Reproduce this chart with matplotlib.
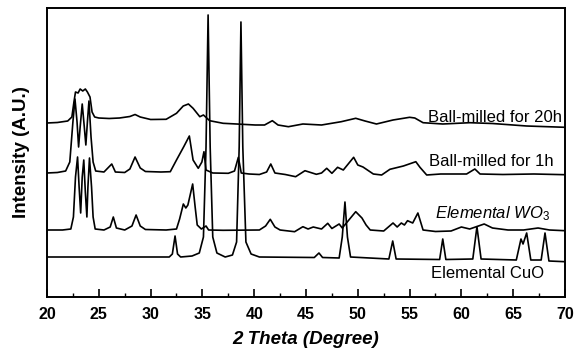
#!/usr/bin/env python3
"""
XRD patterns: elemental CuO, elemental WO3 and the mixture ball-milled
for 1 h and 20 h. Traces read off the published figure (stacked, A.U.).
"""
import numpy as np
import matplotlib
matplotlib.use("Agg")
import matplotlib.pyplot as plt
from matplotlib.ticker import MultipleLocator

plt.rcParams["font.family"] = ["Liberation Sans", "DejaVu Sans"]
plt.rcParams["mathtext.fontset"] = "custom"
plt.rcParams["mathtext.rm"] = "Liberation Sans"
plt.rcParams["mathtext.it"] = "Liberation Sans:italic"

# ball-milled for 20 h
theta_20h = [20, 21, 22, 22.4, 22.6, 22.75, 23.0, 23.2, 23.45, 23.7,
             23.9, 24.15, 24.35, 24.6, 25, 26, 27, 28, 28.5, 29,
             30, 31.5, 32.5, 33.15, 33.65, 34.1, 34.75, 35.1, 35.7, 37,
             38.3, 40.1, 41.0, 41.75, 42.3, 43.3, 44.7, 46.5, 48.4, 49.8,
             50.7, 51.8, 53.4, 55.0, 55.5, 56.3, 58.2, 60.8, 63.0, 66.3,
             70]
int_20h = [174, 174.5, 176, 180, 195, 205, 204, 208, 206, 208,
           205, 200, 185, 180, 179, 178.5, 179, 180.5, 182.5, 180,
           177.5, 177.7, 183.7, 191, 193, 188.7, 180.3, 182, 176.3, 173.7,
           173, 172, 172, 176.3, 172, 170.3, 173, 172, 175.3, 178.7,
           176, 173, 177, 179.7, 179, 174.3, 173, 174.3, 173.5, 171,
           169.7]

# ball-milled for 1 h
theta_1h = [20, 21, 21.8, 22.2, 22.5, 22.7, 22.9, 23.05, 23.2, 23.4,
            23.6, 23.75, 23.9, 24.05, 24.25, 24.45, 24.7, 25.5, 26.25, 26.6,
            27.5, 28.0, 28.5, 29.0, 29.5, 31.0, 31.9, 32.5, 33.2, 33.74,
            34.1, 34.6, 34.95, 35.15, 35.35, 36.0, 37.5, 38.1, 38.47, 38.75,
            39.5, 40.5, 41.2, 41.6, 42.0, 43.0, 44.0, 44.9, 46.0, 46.5,
            47.0, 47.5, 48.05, 48.6, 49.6, 50.0, 50.5, 51.5, 52.3, 53.1,
            54.4, 55.6, 56.0, 56.65, 58, 60.5, 61.3, 61.8, 64, 67,
            70]
int_1h = [124, 124.5, 126, 135, 175, 198, 175, 150, 170, 193,
          170, 152, 175, 196, 160, 135, 126, 125, 133, 125,
          124.5, 128, 140, 129, 125.5, 125, 125.3, 137, 150.3, 161,
          137, 128.7, 135, 145.3, 127, 124, 123.7, 126, 139.7, 124,
          123, 122.5, 125, 133, 124, 122.5, 120.3, 126.3, 122.7, 124,
          128.7, 123.7, 129.7, 127, 139.7, 132, 130, 123, 122, 127.7,
          131, 135.3, 129.7, 122, 123, 123, 128, 123, 122.5, 123,
          122.3]

# elemental WO3
theta_wo3 = [20, 21.5, 22.3, 22.55, 22.75, 22.95, 23.1, 23.25, 23.4, 23.55,
             23.7, 23.85, 23.95, 24.1, 24.3, 24.45, 24.65, 25.5, 26.1, 26.4,
             26.7, 27.5, 28.2, 28.6, 29.0, 29.5, 31.5, 32.5, 32.8, 33.16,
             33.4, 33.6, 34.06, 34.3, 34.5, 34.9, 35.35, 35.6, 37, 40.5,
             41.1, 41.55, 42.0, 42.5, 43.9, 44.7, 45.2, 45.7, 46.5, 47.1,
             47.5, 48.2, 48.5, 49.8, 50.4, 50.8, 51.2, 52.5, 53.4, 53.8,
             54.2, 54.5, 54.8, 55.3, 55.8, 56.3, 57.5, 59.0, 60.0, 60.8,
             62.2, 63.0, 64.5, 66.0, 67.4, 68.5, 70]
int_wo3 = [67, 67, 68, 80, 120, 140, 110, 84, 120, 137,
           105, 80, 110, 139, 110, 80, 68, 67, 70, 80,
           69, 67, 71, 82, 71, 67.5, 67, 68, 78, 93,
           89, 92, 113, 90, 72, 68, 71, 67, 66.7, 67,
           71, 77.7, 70, 67, 65.3, 70.3, 68, 70, 68, 73.7,
           68.5, 73, 69, 85.3, 79, 72, 67, 66, 74, 70,
           74, 72, 76.3, 74, 84, 67, 65.5, 66, 70, 68,
           73, 69, 67, 67, 69, 67, 66.3]

# elemental CuO
theta_cuo = [20, 25, 30, 31.8, 32.1, 32.36, 32.6, 32.9, 34.0, 34.7,
             35.1, 35.35, 35.55, 35.75, 36.0, 36.4, 37.2, 37.9, 38.3, 38.55,
             38.72, 38.9, 39.2, 39.7, 40.5, 45.8, 46.25, 46.6, 48.2, 48.5,
             48.76, 49.0, 49.3, 53.0, 53.37, 53.7, 57.9, 58.2, 58.5, 61.1,
             61.5, 61.9, 65.3, 65.75, 65.95, 66.3, 66.7, 67.7, 68.07, 68.45,
             70]
int_cuo = [40, 40, 40, 40, 43, 61, 43, 40, 41, 44,
           60, 150, 282, 150, 60, 44, 40, 42, 55, 150,
           275, 150, 55, 43, 40, 39.5, 44, 39.5, 39, 60,
           95, 60, 40, 38, 56, 38, 37.5, 58, 37.5, 38,
           70.3, 38, 37, 58, 53, 64, 37, 37, 64, 36,
           35.3]

labels = ["Ball-milled for 20h", "Ball-milled for 1h",
          "Elemental WO$_3$", "Elemental CuO"]


def main():
    fig = plt.figure(figsize=(5.79, 3.51), dpi=100)
    ax = fig.add_axes([47 / 579, 54 / 351, 518 / 579, 289 / 351])

    for th, inten in [(theta_20h, int_20h), (theta_1h, int_1h),
                      (theta_wo3, int_wo3), (theta_cuo, int_cuo)]:
        ax.plot(np.asarray(th), np.asarray(inten), color="black", lw=1.2,
                solid_joinstyle="round")

    # trace labels, right aligned just above each pattern
    ax.text(69.7, 175.5, labels[0], ha="right", va="baseline", fontsize=12)
    ax.text(68.95, 130.5, labels[1], ha="right", va="baseline", fontsize=12)
    ax.text(68.55, 79, labels[2], ha="right", va="baseline", fontsize=12,
            fontstyle="italic")
    ax.text(67.95, 19, labels[3], ha="right", va="baseline", fontsize=12)

    ax.set_xlim(20, 70)
    ax.set_ylim(0, 289)
    ax.xaxis.set_major_locator(MultipleLocator(5))
    ax.xaxis.set_minor_locator(MultipleLocator(2.5))
    ax.tick_params(axis="x", which="major", direction="in", length=6,
                   width=1.2, labelsize=11.5, pad=7)
    ax.tick_params(axis="x", which="minor", direction="in", length=3,
                   width=1.0)
    ax.set_yticks([])
    for lab in ax.get_xticklabels():
        lab.set_fontweight("bold")
    for sp in ax.spines.values():
        sp.set_linewidth(1.4)

    ax.set_xlabel("2 Theta (Degree)", fontsize=13.5, fontweight="bold",
                  fontstyle="italic", labelpad=7)
    ax.set_ylabel("Intensity (A.U.)", fontsize=13.5, fontweight="bold",
                  labelpad=12)

    fig.savefig("out.png", dpi=100)
    plt.close(fig)


if __name__ == "__main__":
    main()
